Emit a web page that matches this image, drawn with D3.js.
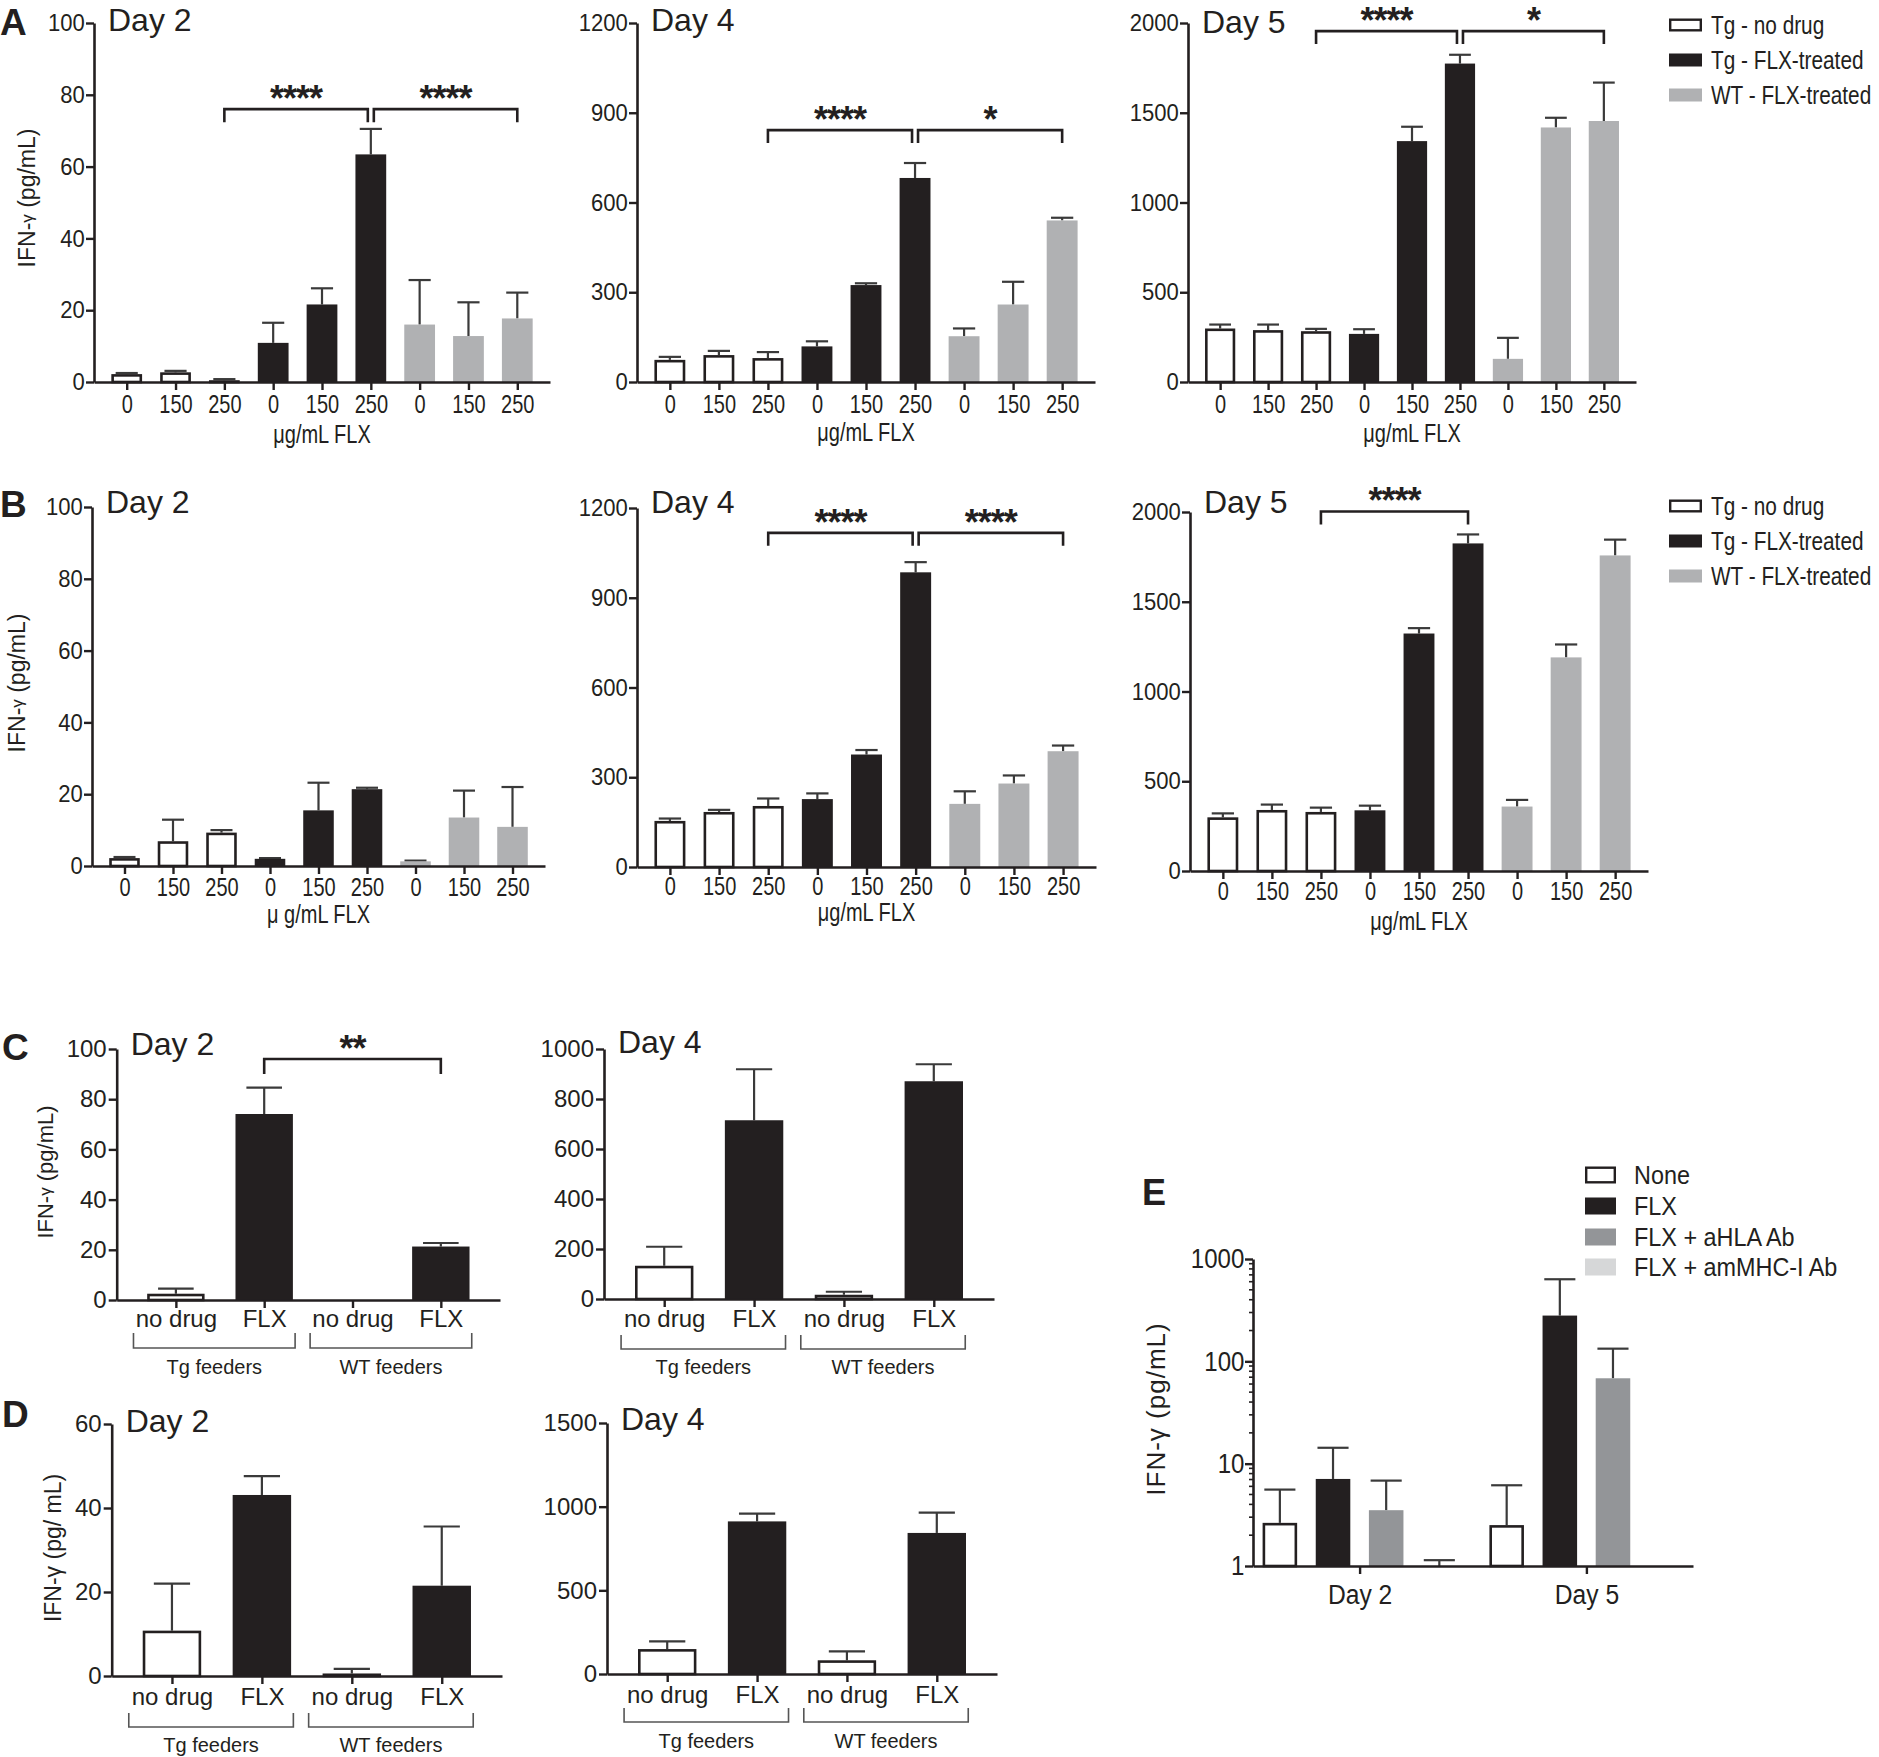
<!DOCTYPE html>
<html><head><meta charset="utf-8">
<script src="https://cdn.jsdelivr.net/npm/d3@7"></script>
<style>
body{margin:0;background:#fff;}
svg{display:block;background:#fff;}
text{font-family:"Liberation Sans",Arial,sans-serif;fill:#231f20;}
</style></head><body>
<svg id="fig" width="1879" height="1757"></svg>
<script>
// ---------------- data ----------------
const doseLabels = ["0","150","250","0","150","250","0","150","250"];
const doseGroup = [0,0,0,1,1,1,2,2,2];
const legendNames = ["Tg - no drug","Tg - FLX-treated","WT - FLX-treated"];

const aDay2Mean = [2.2, 2.7, 0.5, 10.9, 21.6, 63.4, 16.0, 12.8, 17.7];
const aDay2Sem  = [0.3, 0.4, 0.3, 5.6, 4.5, 7.1, 12.4, 9.4, 7.2];
const aDay4Mean = [74, 90, 80, 119, 324, 682, 153, 259, 540];
const aDay4Sem  = [10, 14, 20, 17, 6, 50, 26, 76, 9];
const aDay5Mean = [298, 289, 283, 268, 1342, 1774, 129, 1418, 1454];
const aDay5Sem  = [22, 31, 13, 26, 80, 49, 117, 54, 214];
const bDay2Mean = [2.2, 6.9, 9.3, 2.0, 15.5, 21.4, 1.3, 13.5, 10.9];
const bDay2Sem  = [0.3, 6.0, 0.7, 0.2, 7.7, 0.4, 0.2, 7.5, 11.1];
const bDay4Mean = [154, 184, 204, 227, 376, 985, 211, 279, 387];
const bDay4Sem  = [8, 7, 25, 19, 15, 34, 42, 27, 19];
const bDay5Mean = [299, 340, 329, 338, 1323, 1825, 359, 1190, 1758];
const bDay5Sem  = [22, 30, 24, 26, 30, 50, 37, 72, 88];

const ticks100 = [0,20,40,60,80,100];
const ticks1200 = [0,300,600,900,1200];
const ticks2000 = [0,500,1000,1500,2000];
const ticks1000 = [0,200,400,600,800,1000];
const ticks60 = [0,20,40,60];
const ticks1500 = [0,500,1000,1500];

const feederLabels = ["no drug","FLX","no drug","FLX"];
const feederGroups = ["Tg feeders","WT feeders"];
const feederFill = [0,1,0,1];
const cDay2Mean = [2.5, 74.1, 0, 21.3];
const cDay2Sem  = [2.0, 10.5, 0, 1.4];
const cDay4Mean = [133, 715, 17, 871];
const cDay4Sem  = [76, 204, 12, 68];
const dDay2Mean = [10.8, 43.1, 0.6, 21.5];
const dDay2Sem  = [11.2, 4.5, 1.1, 14.1];
const dDay4Mean = [149, 912, 82, 843];
const dDay4Sem  = [46, 46, 53, 121];

const eDays = ["Day 2","Day 5"];
const eSeries = ["None","FLX","FLX + aHLA Ab","FLX + amMHC-I Ab"];
const eDay2Mean  = [2.64, 7.09, 3.51, 1.0];
const eDay2Upper = [5.58, 14.3, 6.83, 1.14];
const eDay5Mean  = [2.51, 280, 68.3, null];
const eDay5Upper = [6.15, 634, 133, null];
const eTicks = [1,10,100,1000];

// ---------------- style ----------------
const INK = "#231f20";
const ERR = "#3a3a3a";
const doseFill = ["#ffffff", "#231f20", "#b0b1b3"];
const eFill = ["#ffffff", "#231f20", "#939598", "#d6d7d8"];
const REG = "'Liberation Sans',Arial,sans-serif";
const NARROW_X = 0.8;
const svg = d3.select("#fig");
const fmt = d3.format("d");

function styleAxis(g, size) {
  g.attr("font-size", size).attr("font-family", REG);
  g.select(".domain").attr("stroke", INK).attr("stroke-width", 2.6);
  g.selectAll(".tick line").attr("stroke", INK).attr("stroke-width", 2.4);
  g.selectAll(".tick text").attr("fill", INK);
}

function narrowText(parent, x, y, txt, size, anchor, sx) {
  return parent.append("text")
    .attr("transform", `translate(${x},${y}) scale(${sx || NARROW_X},1)`)
    .attr("text-anchor", anchor || "start").attr("font-size", size).text(txt);
}

function drawBars(g, items, x, y, bw, fills, base, capFrac) {
  const capW = bw * (capFrac || 0.7);
  const eb = items.filter(d => d.up != null && d.up > d.m);
  g.selectAll("line.err").data(eb).join("line").attr("class","err")
    .attr("x1", d => x(d.i)).attr("x2", d => x(d.i))
    .attr("y1", d => y(d.m)).attr("y2", d => y(d.up))
    .attr("stroke", ERR).attr("stroke-width", 2.2);
  g.selectAll("line.cap").data(eb).join("line").attr("class","cap")
    .attr("x1", d => x(d.i) - capW/2).attr("x2", d => x(d.i) + capW/2)
    .attr("y1", d => y(d.up)).attr("y2", d => y(d.up))
    .attr("stroke", ERR).attr("stroke-width", 2.2);
  const bars = items.filter(d => d.m != null && d.m > base);
  g.selectAll("rect.bar").data(bars).join("rect").attr("class","bar")
    .attr("x", d => x(d.i) - bw/2 + (d.f === 0 ? 1.3 : 0))
    .attr("width", d => bw - (d.f === 0 ? 2.6 : 0))
    .attr("y", d => y(d.m) + (d.f === 0 ? 1.3 : 0))
    .attr("height", d => Math.max(0, y(base) - y(d.m) - (d.f === 0 ? 1.3 : 0)))
    .attr("fill", d => fills[d.f])
    .attr("stroke", d => d.f === 0 ? INK : "none")
    .attr("stroke-width", 2.6);
}

function sigBracket(g, x, y, br, leg) {
  const yb = y(br.v);
  const x1 = x(br.a) + (br.ga || 0), x2 = x(br.b) + (br.gb || 0);
  g.append("path").attr("d", `M${x1},${yb+leg}V${yb}H${x2}V${yb+leg}`)
    .attr("fill","none").attr("stroke", INK).attr("stroke-width", 2.6);
  g.append("text").attr("x", (x1+x2)/2).attr("y", yb + 2)
    .attr("text-anchor","middle").attr("font-weight","bold")
    .attr("font-size", 36).attr("letter-spacing", -1).text(br.t);
}

function dosePanel(c) {
  const g = svg.append("g");
  const y = d3.scaleLinear().domain([0, c.ymax]).range([c.y0, c.yTop]);
  const x = d3.scalePoint().domain(d3.range(c.mean.length)).range([c.axisX, c.xEnd]).padding(0.67);
  const bw = x.step() * 0.63;
  const items = c.mean.map((m, i) => ({i, m, up: m + c.sem[i], f: doseGroup[i]}));
  drawBars(g, items, x, y, bw, doseFill, 0, 0.72);
  const tickPad = c.xlabY - c.y0 - 8 - 0.71 * 25;
  const gx = g.append("g").attr("transform", `translate(0,${c.y0})`)
    .call(d3.axisBottom(x).tickSize(8).tickSizeOuter(0).tickPadding(tickPad).tickFormat(i => doseLabels[i]));
  styleAxis(gx, 25);
  gx.selectAll(".tick text").attr("transform", `scale(${NARROW_X},1)`);
  const gy = g.append("g").attr("transform", `translate(${c.axisX},0)`)
    .call(d3.axisLeft(y).tickValues(c.ticks).tickFormat(fmt).tickSize(8).tickSizeOuter(0).tickPadding(2));
  styleAxis(gy, 24);
  gy.selectAll(".tick text").attr("transform", "scale(0.92,1)");
  narrowText(g, (x(0) + x(8)) / 2, c.xTitleY, c.xTitle, 25, "middle");
  g.append("text").attr("x", c.axisX + 14).attr("y", c.titleY).attr("font-size", 32).text(c.title);
  (c.brackets || []).forEach(br => sigBracket(g, x, y, br, 13));
}

function legend(x0, rows, names, fills, size, bw, bh, tx, sx) {
  const g = svg.append("g");
  names.forEach((n, i) => {
    const w = fills[i] === "#ffffff";
    g.append("rect").attr("x", x0 + (w ? 1.2 : 0)).attr("y", rows[i] - bh/2 + (w ? 1.2 : 0))
      .attr("width", bw - (w ? 2.4 : 0)).attr("height", bh - (w ? 2.4 : 0))
      .attr("fill", fills[i]).attr("stroke", w ? INK : "none").attr("stroke-width", 2.4);
    narrowText(g, tx, rows[i] + size * 0.36, n, size, "start", sx);
  });
}

function yLabel(cx, cy, size, parts, ls) {
  const t = svg.append("text").attr("transform", `translate(${cx},${cy}) rotate(-90)`)
    .attr("text-anchor","middle").attr("dominant-baseline","central").attr("font-size", size)
    .attr("letter-spacing", ls || 0);
  parts.forEach(p => t.append("tspan").attr("font-size", p.s || size).text(p.t));
}

function panelLetter(x, y, t) {
  svg.append("text").attr("x", x).attr("y", y).attr("font-size", 37).attr("font-weight","bold").text(t);
}

// ---------------- Row A ----------------
panelLetter(0, 35, "A");
yLabel(27, 198, 23, [{t:"IFN-"},{t:"γ",s:17},{t:" (pg/mL)"}]);
dosePanel({axisX:94, xEnd:550, yTop:23, y0:382, ymax:100, ticks:ticks100, mean:aDay2Mean, sem:aDay2Sem,
  xlabY:413, xTitleY:443, xTitle:"μg/mL FLX", title:"Day 2", titleY:31,
  brackets:[{a:2,b:5,v:76,t:"****",gb:-3},{a:5,b:8,v:76,t:"****",ga:3}]});
dosePanel({axisX:637, xEnd:1095, yTop:23, y0:382, ymax:1200, ticks:ticks1200, mean:aDay4Mean, sem:aDay4Sem,
  xlabY:413, xTitleY:441, xTitle:"μg/mL FLX", title:"Day 4", titleY:31,
  brackets:[{a:2,b:5,v:842,t:"****",gb:-3},{a:5,b:8,v:842,t:"*",ga:3}]});
dosePanel({axisX:1188, xEnd:1636, yTop:23, y0:382, ymax:2000, ticks:ticks2000, mean:aDay5Mean, sem:aDay5Sem,
  xlabY:413, xTitleY:442, xTitle:"μg/mL FLX", title:"Day 5", titleY:33,
  brackets:[{a:2,b:5,v:1955,t:"****",gb:-3},{a:5,b:8,v:1955,t:"*",ga:3}]});
legend(1669, [25,60,95], legendNames, doseFill, 26, 33, 13, 1711, 0.8);

// ---------------- Row B ----------------
panelLetter(0, 517, "B");
yLabel(17, 683, 23, [{t:"IFN-"},{t:"γ",s:17},{t:" (pg/mL)"}]);
dosePanel({axisX:92, xEnd:545, yTop:507, y0:866, ymax:100, ticks:ticks100, mean:bDay2Mean, sem:bDay2Sem,
  xlabY:896, xTitleY:923, xTitle:"μ g/mL FLX", title:"Day 2", titleY:513});
dosePanel({axisX:637, xEnd:1096, yTop:508, y0:867, ymax:1200, ticks:ticks1200, mean:bDay4Mean, sem:bDay4Sem,
  xlabY:895, xTitleY:921, xTitle:"μg/mL FLX", title:"Day 4", titleY:513,
  brackets:[{a:2,b:5,v:1117,t:"****",gb:-3},{a:5,b:8,v:1117,t:"****",ga:3}]});
dosePanel({axisX:1190, xEnd:1648, yTop:512, y0:871, ymax:2000, ticks:ticks2000, mean:bDay5Mean, sem:bDay5Sem,
  xlabY:900, xTitleY:930, xTitle:"μg/mL FLX", title:"Day 5", titleY:513,
  brackets:[{a:2,b:5,v:2003,t:"****"}]});
legend(1669, [506,541,576], legendNames, doseFill, 26, 33, 13, 1711, 0.8);

// ---------------- Rows C, D ----------------
function feederPanel(c) {
  const g = svg.append("g");
  const y = d3.scaleLinear().domain([0, c.ymax]).range([c.y0, c.yTop]);
  const x = d3.scalePoint().domain(d3.range(4)).range([c.axisX, c.xEnd]).padding(0.67);
  const bw = x.step() * 0.65;
  const items = c.mean.map((m, i) => ({i, m, up: m + c.sem[i], f: feederFill[i]}));
  drawBars(g, items, x, y, bw, doseFill, 0, 0.62);
  const tickPad = c.xlabY - c.y0 - 8 - 0.71 * 24;
  const gx = g.append("g").attr("transform", `translate(0,${c.y0})`)
    .call(d3.axisBottom(x).tickSize(8).tickSizeOuter(0).tickPadding(tickPad).tickFormat(i => feederLabels[i]));
  styleAxis(gx, 24);
  const gy = g.append("g").attr("transform", `translate(${c.axisX},0)`)
    .call(d3.axisLeft(y).tickValues(c.ticks).tickFormat(fmt).tickSize(8).tickSizeOuter(0).tickPadding(2));
  styleAxis(gy, 24);
  g.append("text").attr("x", c.axisX + 14).attr("y", c.titleY).attr("font-size", 32).text(c.title);
  feederGroups.forEach((name, k) => {
    const xl = x(2*k) - 0.48 * x.step(), xr = x(2*k+1) + 0.35 * x.step();
    g.append("path").attr("d", `M${xl},${c.brTop}V${c.brBot}H${xr}V${c.brTop}`)
      .attr("fill","none").attr("stroke","#555").attr("stroke-width",1.6);
    g.append("text").attr("x", (xl+xr)/2).attr("y", c.grpY).attr("text-anchor","middle")
      .attr("font-size", 20).text(name);
  });
  (c.brackets || []).forEach(br => sigBracket(g, x, y, br, 15));
}

panelLetter(2, 1060, "C");
yLabel(45, 1172, 22, [{t:"IFN-"},{t:"γ",s:17},{t:" (pg/mL)"}]);
feederPanel({axisX:116.7, xEnd:500, yTop:1049, y0:1300, ymax:100, ticks:ticks100, mean:cDay2Mean, sem:cDay2Sem,
  xlabY:1327, brTop:1333, brBot:1348, grpY:1374, title:"Day 2", titleY:1055,
  brackets:[{a:1,b:3,v:96,t:"**"}]});
feederPanel({axisX:604, xEnd:994, yTop:1049, y0:1299, ymax:1000, ticks:ticks1000, mean:cDay4Mean, sem:cDay4Sem,
  xlabY:1327, brTop:1335, brBot:1349, grpY:1374, title:"Day 4", titleY:1053});

panelLetter(2, 1427, "D");
yLabel(53, 1548, 23, [{t:"IFN-γ (pg/ mL)"}]);
feederPanel({axisX:111.7, xEnd:502, yTop:1424, y0:1676, ymax:60, ticks:ticks60, mean:dDay2Mean, sem:dDay2Sem,
  xlabY:1705, brTop:1713, brBot:1727, grpY:1752, title:"Day 2", titleY:1432});
feederPanel({axisX:607, xEnd:997, yTop:1423, y0:1674, ymax:1500, ticks:ticks1500, mean:dDay4Mean, sem:dDay4Sem,
  xlabY:1703, brTop:1708, brBot:1722, grpY:1748, title:"Day 4", titleY:1430});

// ---------------- Panel E ----------------
(function(){
  const axisX = 1253, xEnd = 1693, yTop = 1259, y0 = 1566;
  const g = svg.append("g");
  const y = d3.scaleLog().domain([1, 1000]).range([y0, yTop]);
  const xd = d3.scalePoint().domain(eDays).range([axisX, xEnd]).padding(0.47);
  const xs = d3.scaleBand().domain(eSeries).range([-97, 97]).paddingInner(0.35).paddingOuter(0);
  const rows = [eDay2Mean, eDay5Mean];
  const ups = [eDay2Upper, eDay5Upper];
  const items = [];
  eDays.forEach((dname, di) => eSeries.forEach((s, si) => {
    items.push({i: dname + "|" + s, m: rows[di][si], up: ups[di][si], f: si});
  }));
  const xc = key => { const [d, s] = key.split("|"); return xd(d) + xs(s) + xs.bandwidth()/2; };
  drawBars(g, items, xc, y, xs.bandwidth(), eFill, 1, 0.9);
  const gx = g.append("g").attr("transform", `translate(0,${y0})`)
    .call(d3.axisBottom(xd).tickSize(8).tickSizeOuter(0).tickPadding(10));
  styleAxis(gx, 28);
  gx.selectAll(".tick text").attr("transform", "scale(0.88,1)");
  const minor = [];
  [1,10,100].forEach(b => { for (let k = 2; k <= 9; k++) minor.push(b*k); });
  g.selectAll("line.minor").data(minor).join("line")
    .attr("x1", axisX - 4).attr("x2", axisX).attr("y1", d => y(d)).attr("y2", d => y(d))
    .attr("stroke", INK).attr("stroke-width", 1.6);
  const gy = g.append("g").attr("transform", `translate(${axisX},0)`)
    .call(d3.axisLeft(y).tickValues(eTicks).tickFormat(fmt).tickSize(8).tickSizeOuter(0).tickPadding(2));
  styleAxis(gy, 28);
  gy.selectAll(".tick text").attr("transform", "scale(0.86,1)");
  legend(1585, [1175,1206,1237,1267], eSeries, eFill, 26, 31, 17, 1634, 0.9);
  svg.append("text").attr("x", 1142).attr("y", 1205).attr("font-size", 36).attr("font-weight","bold").text("E");
  yLabel(1156, 1409, 26, [{t:"IFN-γ (pg/mL)"}], 1);
})();
</script>
</body></html>
